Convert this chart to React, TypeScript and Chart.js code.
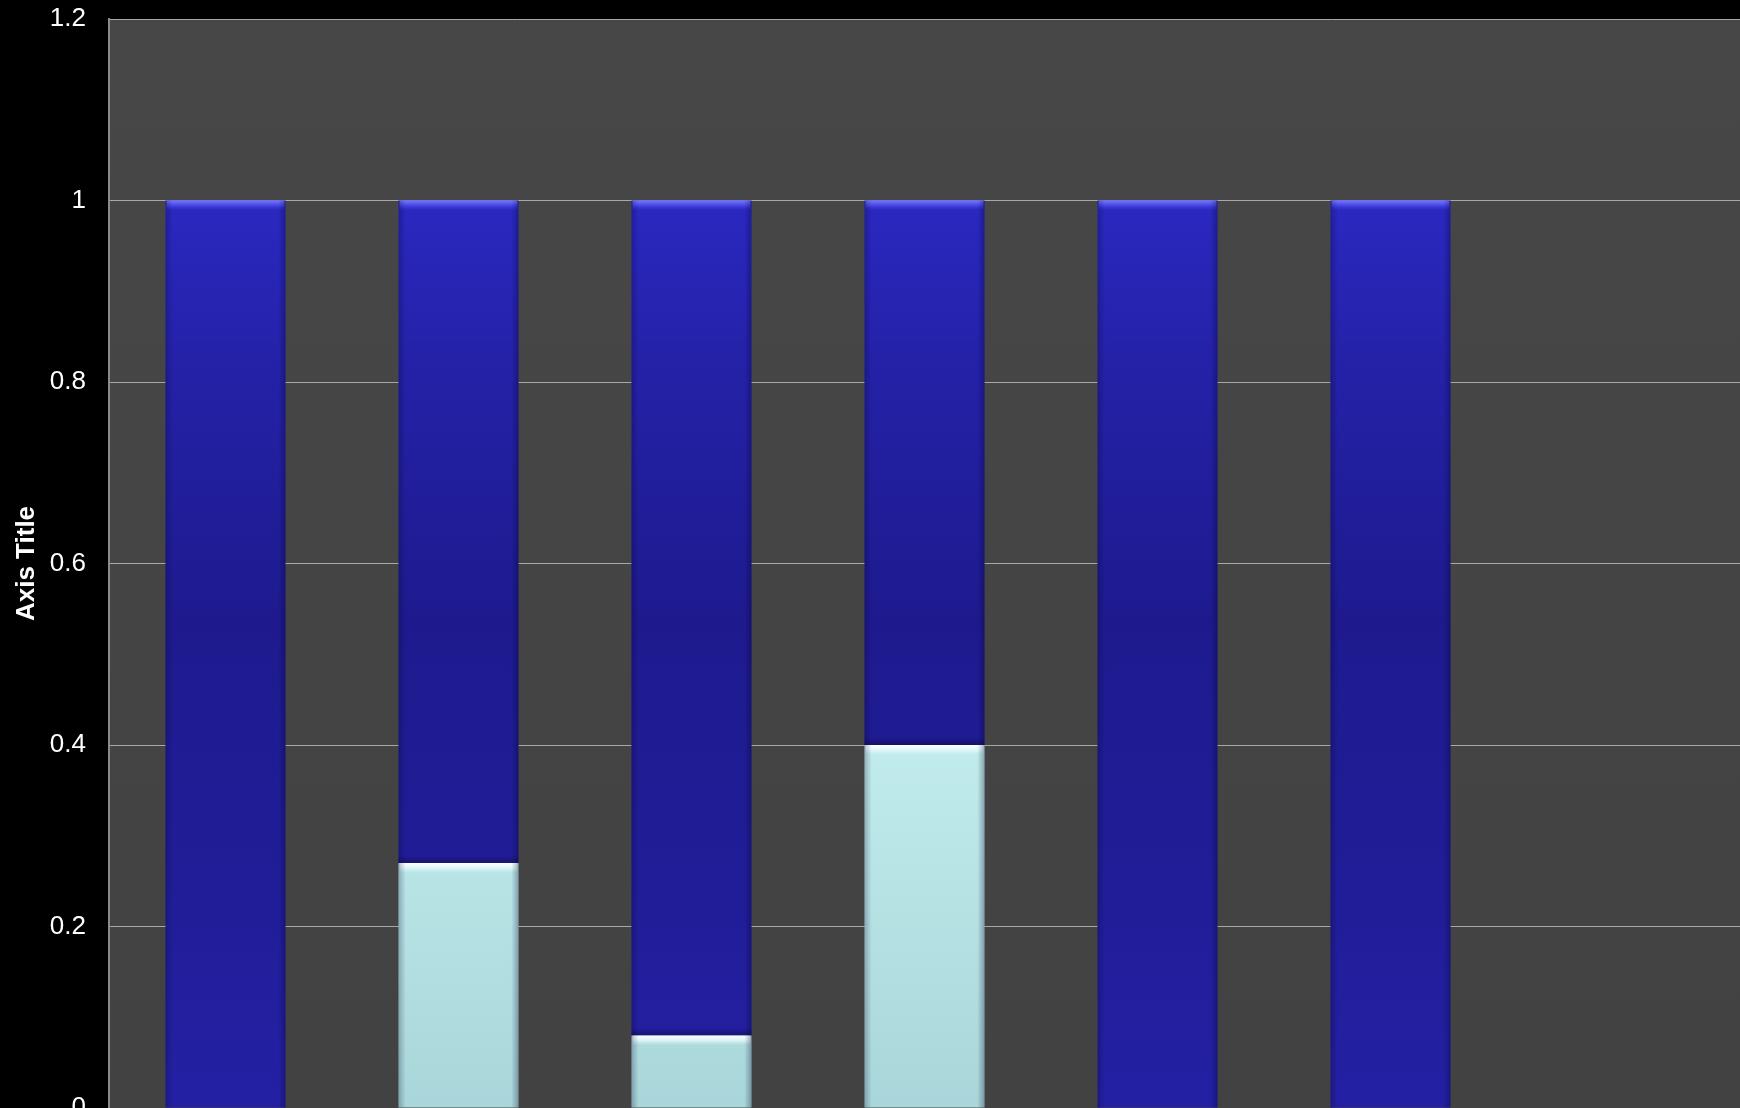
import React, { useEffect, useRef } from 'react';
import { Chart, registerables } from 'chart.js';

Chart.register(...registerables);

const categories = ['1', '2', '3', '4', '5', '6', '7'];
const lightSeries = [0, 0.27, 0.08, 0.4, 0, 0, null];
const blueSeries = [1, 0.73, 0.92, 0.6, 1, 1, null];
const yMin = 0;
const yMax = 1.2;
const yStep = 0.2;
const axisTitle = 'Axis Title';

const W = 1740;
const H = 1108;

const plotBg = {
  id: 'plotBg',
  beforeDraw(chart: any) {
    const { ctx, chartArea: a } = chart;
    if (!a) return;
    ctx.save();
    ctx.fillStyle = '#000';
    ctx.fillRect(0, 0, chart.width, chart.height);
    const g = ctx.createLinearGradient(0, a.top, 0, a.bottom);
    g.addColorStop(0, '#474747');
    g.addColorStop(1, '#424242');
    ctx.fillStyle = g;
    ctx.fillRect(a.left, a.top, a.right - a.left, a.bottom - a.top);
    ctx.restore();
  },
};

const barShine = {
  id: 'barShine',
  afterDatasetsDraw(chart: any) {
    const { ctx } = chart;
    chart.data.datasets.forEach((ds: any, di: number) => {
      const meta = chart.getDatasetMeta(di);
      meta.data.forEach((el: any, i: number) => {
        const v = ds.data[i];
        if (!v) return;
        const p = el.getProps(['x', 'y', 'width', 'base'], true);
        const left = p.x - p.width / 2;
        const top = Math.min(p.y, p.base);
        const bottom = Math.max(p.y, p.base);
        ctx.save();
        const g = ctx.createLinearGradient(0, top, 0, top + 10);
        if (di === 1) {
          g.addColorStop(0, 'rgba(120,120,255,1)');
          g.addColorStop(0.4, 'rgba(90,90,245,0.8)');
          g.addColorStop(1, 'rgba(60,60,230,0)');
        } else {
          g.addColorStop(0, 'rgba(255,255,255,1)');
          g.addColorStop(0.5, 'rgba(240,255,255,0.7)');
          g.addColorStop(1, 'rgba(220,245,245,0)');
        }
        ctx.fillStyle = g;
        ctx.fillRect(left + 1, top, p.width - 2, 10);
        if (di === 1 && lightSeries[i]) {
          const d = ctx.createLinearGradient(0, bottom - 8, 0, bottom);
          d.addColorStop(0, 'rgba(10,8,60,0)');
          d.addColorStop(1, 'rgba(10,8,60,0.45)');
          ctx.fillStyle = d;
          ctx.fillRect(left, bottom - 8, p.width, 8);
        }
        // side shading
        const h = ctx.createLinearGradient(left, 0, left + p.width, 0);
        h.addColorStop(0, 'rgba(0,0,40,0.25)');
        h.addColorStop(0.06, 'rgba(0,0,40,0)');
        h.addColorStop(0.94, 'rgba(0,0,40,0)');
        h.addColorStop(1, 'rgba(0,0,40,0.3)');
        ctx.fillStyle = h;
        ctx.fillRect(left, top, p.width, bottom - top);
        ctx.restore();
      });
    });
  },
};

function blueFill(context: any) {
  const chart = context.chart;
  const a = chart.chartArea;
  if (!a) return '#221e9c';
  const g = chart.ctx.createLinearGradient(0, a.top, 0, a.bottom);
  g.addColorStop(0, '#2e2cd0');
  g.addColorStop(0.17, '#2a28c0');
  g.addColorStop(0.3, '#2522aa');
  g.addColorStop(0.55, '#1e1a8e');
  g.addColorStop(0.8, '#211d98');
  g.addColorStop(1, '#2420a4');
  return g;
}

function lightFill(context: any) {
  const chart = context.chart;
  const a = chart.chartArea;
  if (!a) return '#bce6e8';
  const g = chart.ctx.createLinearGradient(0, a.top, 0, a.bottom);
  g.addColorStop(0, '#ccf4f4');
  g.addColorStop(0.6, '#c6f0f0');
  g.addColorStop(1, '#a9d6da');
  return g;
}

export default function App() {
  const ref = useRef<HTMLCanvasElement | null>(null);

  useEffect(() => {
    document.body.style.margin = '0';
    document.body.style.background = '#000';
    const canvas = ref.current;
    if (!canvas) return;
    const chart = new Chart(canvas, {
      type: 'bar',
      data: {
        labels: categories,
        datasets: [
          {
            label: 'Series 1',
            data: lightSeries as any,
            backgroundColor: lightFill as any,
            borderWidth: 0,
            barPercentage: 0.515,
            categoryPercentage: 1,
          },
          {
            label: 'Series 2',
            data: blueSeries as any,
            backgroundColor: blueFill as any,
            borderWidth: 0,
            barPercentage: 0.515,
            categoryPercentage: 1,
          },
        ],
      },
      options: {
        responsive: false,
        animation: false,
        devicePixelRatio: 1,
        layout: { padding: { top: 19, bottom: 0, left: 0, right: 0 } },
        plugins: {
          legend: { display: false },
          tooltip: { enabled: false },
        },
        scales: {
          x: {
            stacked: true,
            display: false,
          },
          y: {
            stacked: true,
            min: yMin,
            max: yMax,
            ticks: {
              stepSize: yStep,
              color: '#ffffff',
              padding: 23,
              font: { family: '"Liberation Sans", Arial, sans-serif', size: 26 },
              callback: (v: any) => String(Math.round(Number(v) * 10) / 10),
            },
            grid: {
              color: '#a8a8a8',
              lineWidth: 1,
              drawTicks: false,
            },
            border: { display: true, color: '#8a8a8a', width: 2 },
            title: {
              display: true,
              text: axisTitle,
              color: '#ffffff',
              padding: { top: 11, bottom: 0 },
              font: { family: '"Liberation Sans", Arial, sans-serif', size: 26, weight: 'bold' },
            },
            afterFit: (scale: any) => {
              scale.width = 109;
              scale.paddingTop = 0;
              scale.paddingBottom = 0;
            },
          },
        },
      },
      plugins: [plotBg, barShine],
    });
    return () => chart.destroy();
  }, []);

  return (
    <div style={{ position: 'fixed', left: 0, top: 0, width: W, height: H, background: '#000', overflow: 'hidden' }}>
      <canvas ref={ref} width={W} height={H} style={{ display: 'block', width: W, height: H }} />
    </div>
  );
}
